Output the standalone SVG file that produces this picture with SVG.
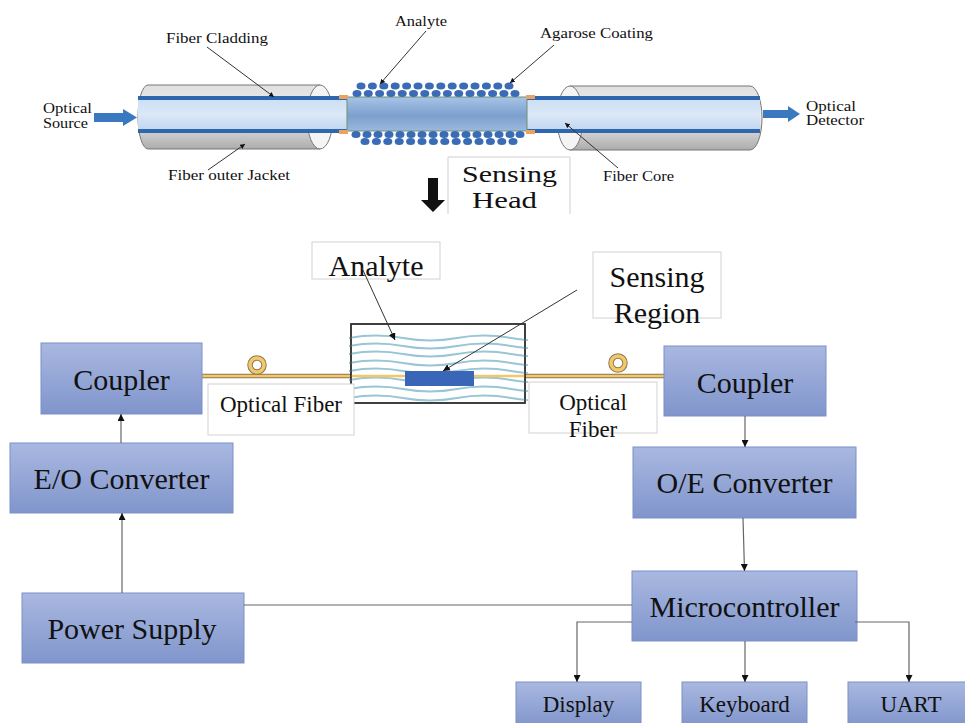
<svg xmlns="http://www.w3.org/2000/svg" width="965" height="723" viewBox="0 0 965 723">
  <defs>
    <style>
      .box { fill: url(#boxGrad); stroke: #7c8fc9; stroke-width: 1; }
      .txt { font-family: "Liberation Serif", "Times New Roman", serif; fill: #111; }
      .big { font-size: 30px; text-anchor: middle; }
      .mid { font-size: 23px; text-anchor: middle; }
      .sm { font-size: 14px; }
      .tag { fill: #fff; stroke: #d2d2d2; stroke-width: 1; }
      .conn { stroke: #666; stroke-width: 1.2; fill: none; }
      .lead { stroke: #333; stroke-width: 1; fill: none; }
      .wave { stroke: #98c6d5; stroke-width: 1.9; fill: none; }
      .dot { fill: #3a6cb5; }
      .stripe { fill: #2f66b0; }
    </style>
    <linearGradient id="boxGrad" x1="0" y1="0" x2="0" y2="1">
      <stop offset="0" stop-color="#a9b8e0"/>
      <stop offset="1" stop-color="#8095cc"/>
    </linearGradient>
    <linearGradient id="jacketGrad" x1="0" y1="0" x2="0" y2="1">
      <stop offset="0" stop-color="#e0e0e0"/>
      <stop offset="0.5" stop-color="#efefef"/>
      <stop offset="1" stop-color="#acacac"/>
    </linearGradient>
    <linearGradient id="coreGrad" x1="0" y1="0" x2="0" y2="1">
      <stop offset="0" stop-color="#c9def3"/>
      <stop offset="0.5" stop-color="#dbe8f7"/>
      <stop offset="1" stop-color="#bcd3ee"/>
    </linearGradient>
    <linearGradient id="senseGrad" x1="0" y1="0" x2="0" y2="1">
      <stop offset="0" stop-color="#a8c4e6"/>
      <stop offset="0.55" stop-color="#7c9fce"/>
      <stop offset="1" stop-color="#9cb9de"/>
    </linearGradient>
    <marker id="arr" viewBox="0 0 10 10" refX="10" refY="5" markerWidth="7" markerHeight="7" orient="auto" markerUnits="userSpaceOnUse">
      <path d="M0,0 L10,5 L0,10 Z" fill="#111"/>
    </marker>
    <marker id="tip" viewBox="0 0 10 10" refX="10" refY="5" markerWidth="5" markerHeight="5" orient="auto" markerUnits="userSpaceOnUse">
      <path d="M0,0 L10,5 L0,10 Z" fill="#111"/>
    </marker>
    <clipPath id="waveClip">
      <rect x="349" y="332" width="179" height="72"/>
    </clipPath>
    <path id="waveLine" d="M0,0 q27,-5 54,0 t54,0 t54,0 t54,0"/>
  </defs>

  <rect width="965" height="723" fill="#fff"/>

  <!-- fiber sensing head illustration -->
  <g id="fiber-illustration">
    <!-- left jacket -->
    <path d="M148,85 L320,85 L320,149 L148,149 A10,32 0 0 1 148,85 Z" fill="url(#jacketGrad)" stroke="#777" stroke-width="1"/>
    <ellipse cx="320" cy="117" rx="13" ry="32" fill="#f4f4f4" stroke="#777" stroke-width="1"/>
    <!-- right jacket -->
    <path d="M570,86 L750,86 A12,32 0 0 1 750,150 L570,150 Z" fill="url(#jacketGrad)" stroke="#777" stroke-width="1"/>
    <ellipse cx="570" cy="118" rx="13" ry="32" fill="#f4f4f4" stroke="#777" stroke-width="1"/>
    <!-- cores -->
    <rect x="138" y="96" width="209" height="37" fill="url(#coreGrad)"/>
    <rect x="138" y="96" width="209" height="4" class="stripe"/>
    <rect x="138" y="129" width="209" height="4" class="stripe"/>
    <rect x="527" y="96" width="233" height="37" fill="url(#coreGrad)"/>
    <rect x="527" y="96" width="233" height="4" class="stripe"/>
    <rect x="527" y="129" width="233" height="4" class="stripe"/>
    <!-- exposed sensing section -->
    <rect x="347" y="97" width="180" height="34" fill="url(#senseGrad)" stroke="#6f8f74" stroke-width="1"/>
    <rect x="339" y="95" width="9" height="4" fill="#e9a463"/>
    <rect x="339" y="130" width="9" height="4" fill="#e9a463"/>
    <rect x="526" y="95" width="9" height="4" fill="#e9a463"/>
    <rect x="526" y="130" width="9" height="4" fill="#e9a463"/>
    <!-- agarose beads -->
    <g id="beads">
      <ellipse class="dot" cx="361" cy="86" rx="4.5" ry="3.6"/><ellipse class="dot" cx="372.4" cy="86" rx="4.5" ry="3.6"/><ellipse class="dot" cx="383.8" cy="86" rx="4.5" ry="3.6"/><ellipse class="dot" cx="395.2" cy="86" rx="4.5" ry="3.6"/><ellipse class="dot" cx="406.6" cy="86" rx="4.5" ry="3.6"/><ellipse class="dot" cx="418" cy="86" rx="4.5" ry="3.6"/><ellipse class="dot" cx="429.4" cy="86" rx="4.5" ry="3.6"/><ellipse class="dot" cx="440.8" cy="86" rx="4.5" ry="3.6"/><ellipse class="dot" cx="452.2" cy="86" rx="4.5" ry="3.6"/><ellipse class="dot" cx="463.6" cy="86" rx="4.5" ry="3.6"/><ellipse class="dot" cx="475" cy="86" rx="4.5" ry="3.6"/><ellipse class="dot" cx="486.4" cy="86" rx="4.5" ry="3.6"/><ellipse class="dot" cx="497.8" cy="86" rx="4.5" ry="3.6"/><ellipse class="dot" cx="509" cy="86" rx="4.5" ry="3.6"/>
      <ellipse class="dot" cx="357" cy="93.5" rx="4.5" ry="3.6"/><ellipse class="dot" cx="368.3" cy="93.5" rx="4.5" ry="3.6"/><ellipse class="dot" cx="379.6" cy="93.5" rx="4.5" ry="3.6"/><ellipse class="dot" cx="390.9" cy="93.5" rx="4.5" ry="3.6"/><ellipse class="dot" cx="402.2" cy="93.5" rx="4.5" ry="3.6"/><ellipse class="dot" cx="413.5" cy="93.5" rx="4.5" ry="3.6"/><ellipse class="dot" cx="424.8" cy="93.5" rx="4.5" ry="3.6"/><ellipse class="dot" cx="436.1" cy="93.5" rx="4.5" ry="3.6"/><ellipse class="dot" cx="447.4" cy="93.5" rx="4.5" ry="3.6"/><ellipse class="dot" cx="458.7" cy="93.5" rx="4.5" ry="3.6"/><ellipse class="dot" cx="470" cy="93.5" rx="4.5" ry="3.6"/><ellipse class="dot" cx="481.3" cy="93.5" rx="4.5" ry="3.6"/><ellipse class="dot" cx="492.6" cy="93.5" rx="4.5" ry="3.6"/><ellipse class="dot" cx="503.9" cy="93.5" rx="4.5" ry="3.6"/><ellipse class="dot" cx="515" cy="93.5" rx="4.5" ry="3.6"/>
      <ellipse class="dot" cx="356" cy="134.5" rx="4.5" ry="3.6"/><ellipse class="dot" cx="367" cy="134.5" rx="4.5" ry="3.6"/><ellipse class="dot" cx="378" cy="134.5" rx="4.5" ry="3.6"/><ellipse class="dot" cx="389" cy="134.5" rx="4.5" ry="3.6"/><ellipse class="dot" cx="400" cy="134.5" rx="4.5" ry="3.6"/><ellipse class="dot" cx="411" cy="134.5" rx="4.5" ry="3.6"/><ellipse class="dot" cx="422" cy="134.5" rx="4.5" ry="3.6"/><ellipse class="dot" cx="433" cy="134.5" rx="4.5" ry="3.6"/><ellipse class="dot" cx="444" cy="134.5" rx="4.5" ry="3.6"/><ellipse class="dot" cx="455" cy="134.5" rx="4.5" ry="3.6"/><ellipse class="dot" cx="466" cy="134.5" rx="4.5" ry="3.6"/><ellipse class="dot" cx="477" cy="134.5" rx="4.5" ry="3.6"/><ellipse class="dot" cx="488" cy="134.5" rx="4.5" ry="3.6"/><ellipse class="dot" cx="499" cy="134.5" rx="4.5" ry="3.6"/><ellipse class="dot" cx="510" cy="134.5" rx="4.5" ry="3.6"/><ellipse class="dot" cx="520" cy="134.5" rx="4.5" ry="3.6"/>
      <ellipse class="dot" cx="365" cy="141.5" rx="4.5" ry="3.6"/><ellipse class="dot" cx="376.4" cy="141.5" rx="4.5" ry="3.6"/><ellipse class="dot" cx="387.8" cy="141.5" rx="4.5" ry="3.6"/><ellipse class="dot" cx="399.2" cy="141.5" rx="4.5" ry="3.6"/><ellipse class="dot" cx="410.6" cy="141.5" rx="4.5" ry="3.6"/><ellipse class="dot" cx="422" cy="141.5" rx="4.5" ry="3.6"/><ellipse class="dot" cx="433.4" cy="141.5" rx="4.5" ry="3.6"/><ellipse class="dot" cx="444.8" cy="141.5" rx="4.5" ry="3.6"/><ellipse class="dot" cx="456.2" cy="141.5" rx="4.5" ry="3.6"/><ellipse class="dot" cx="467.6" cy="141.5" rx="4.5" ry="3.6"/><ellipse class="dot" cx="479" cy="141.5" rx="4.5" ry="3.6"/><ellipse class="dot" cx="490.4" cy="141.5" rx="4.5" ry="3.6"/><ellipse class="dot" cx="501.8" cy="141.5" rx="4.5" ry="3.6"/><ellipse class="dot" cx="513" cy="141.5" rx="4.5" ry="3.6"/>
    </g>
    <!-- light in / out arrows -->
    <path d="M94,113 L123,113 L123,109 L137,117.5 L123,126 L123,122 L94,122 Z" fill="#3a78c0"/>
    <path d="M763,110 L788,110 L788,106 L800,114 L788,122 L788,118 L763,118 Z" fill="#3a78c0"/>
    <!-- leader lines -->
    <line class="lead" x1="207" y1="47" x2="274" y2="97" marker-end="url(#tip)"/>
    <line class="lead" x1="426" y1="31" x2="380" y2="84" marker-end="url(#tip)"/>
    <line class="lead" x1="554" y1="45" x2="510" y2="83" marker-end="url(#tip)"/>
    <line class="lead" x1="208" y1="170" x2="245" y2="144" marker-end="url(#tip)"/>
    <line class="lead" x1="618" y1="168" x2="565" y2="123" marker-end="url(#tip)"/>
    <!-- labels -->
    <text class="txt sm" x="43" y="113" textLength="49" lengthAdjust="spacingAndGlyphs">Optical</text>
    <text class="txt sm" x="43" y="128" textLength="45" lengthAdjust="spacingAndGlyphs">Source</text>
    <text class="txt sm" x="166" y="43" textLength="102" lengthAdjust="spacingAndGlyphs">Fiber Cladding</text>
    <text class="txt sm" x="395" y="26" textLength="52" lengthAdjust="spacingAndGlyphs">Analyte</text>
    <text class="txt sm" x="540" y="38" textLength="113" lengthAdjust="spacingAndGlyphs">Agarose Coating</text>
    <text class="txt sm" x="806" y="111" textLength="50" lengthAdjust="spacingAndGlyphs">Optical</text>
    <text class="txt sm" x="806" y="125" textLength="58" lengthAdjust="spacingAndGlyphs">Detector</text>
    <text class="txt sm" x="168" y="180" textLength="122" lengthAdjust="spacingAndGlyphs">Fiber outer Jacket</text>
    <text class="txt sm" x="603" y="181" textLength="71" lengthAdjust="spacingAndGlyphs">Fiber Core</text>
  </g>

  <!-- sensing head caption -->
  <g id="sensing-head">
    <path d="M448,214 L448,157 L570,157 L570,214" fill="#fff" stroke="#cfcfcf" stroke-width="1"/>
    <text class="txt" x="462" y="182" font-size="23" textLength="95" lengthAdjust="spacingAndGlyphs">Sensing</text>
    <text class="txt" x="472" y="208" font-size="23" textLength="65" lengthAdjust="spacingAndGlyphs">Head</text>
    <path d="M428,178 L438,178 L438,200 L445,200 L433,212 L421,200 L428,200 Z" fill="#111"/>
  </g>

  <!-- optical fiber link -->
  <g id="fiber-link">
    <line x1="202" y1="376" x2="664" y2="376" stroke="#8a7a55" stroke-width="4.5"/>
    <line x1="202" y1="376" x2="664" y2="376" stroke="#f3c76a" stroke-width="2.5"/>
    <circle cx="257" cy="365" r="7" fill="none" stroke="#8a7a55" stroke-width="5.5"/>
    <circle cx="257" cy="365" r="7" fill="none" stroke="#f3c76a" stroke-width="3.5"/>
    <circle cx="618" cy="363" r="7" fill="none" stroke="#8a7a55" stroke-width="5.5"/>
    <circle cx="618" cy="363" r="7" fill="none" stroke="#f3c76a" stroke-width="3.5"/>
  </g>

  <!-- analyte chamber -->
  <g id="analyte-chamber">
    <rect x="351" y="324" width="174" height="79" fill="#fff" stroke="#333" stroke-width="1.5"/>
    <g clip-path="url(#waveClip)">
      <use href="#waveLine" class="wave" x="349" y="338"/>
      <use href="#waveLine" class="wave" x="349" y="346"/>
      <use href="#waveLine" class="wave" x="349" y="354"/>
      <use href="#waveLine" class="wave" x="349" y="363"/>
      <use href="#waveLine" class="wave" x="349" y="371"/>
      <use href="#waveLine" class="wave" x="349" y="380"/>
      <use href="#waveLine" class="wave" x="349" y="389"/>
      <use href="#waveLine" class="wave" x="349" y="398"/>
    </g>
    <line x1="351" y1="376" x2="525" y2="376" stroke="#f3c76a" stroke-width="2.5"/>
    <rect x="405" y="371" width="69" height="15" fill="#3a66b8"/>
    <rect x="351" y="324" width="174" height="79" fill="none" stroke="#333" stroke-width="1.5"/>
  </g>

  <!-- callout labels -->
  <g id="label-analyte">
    <rect class="tag" x="312" y="242" width="128" height="37"/>
    <text class="txt big" x="376" y="276">Analyte</text>
  </g>
  <g id="label-sensing-region">
    <rect class="tag" x="593" y="252" width="128" height="66"/>
    <text class="txt big" x="657" y="287">Sensing</text>
    <text class="txt big" x="657" y="323">Region</text>
  </g>
  <g id="label-fiber-left">
    <rect class="tag" x="208" y="384" width="146" height="51"/>
    <text class="txt mid" x="281" y="412">Optical Fiber</text>
  </g>
  <g id="label-fiber-right">
    <rect class="tag" x="529" y="382" width="128" height="51"/>
    <text class="txt mid" x="593" y="410">Optical</text>
    <text class="txt mid" x="593" y="437">Fiber</text>
  </g>

  <!-- block nodes -->
  <g id="coupler-left">
    <rect class="box" x="41" y="343" width="161" height="71"/>
    <text class="txt big" x="121.5" y="390">Coupler</text>
  </g>
  <g id="eo-converter">
    <rect class="box" x="10" y="443" width="223" height="70"/>
    <text class="txt big" x="121.5" y="489">E/O Converter</text>
  </g>
  <g id="power-supply">
    <rect class="box" x="22" y="593" width="222" height="70"/>
    <text class="txt big" x="132" y="639">Power Supply</text>
  </g>
  <g id="coupler-right">
    <rect class="box" x="664" y="346" width="162" height="70"/>
    <text class="txt big" x="745" y="393">Coupler</text>
  </g>
  <g id="oe-converter">
    <rect class="box" x="633" y="447" width="223" height="71"/>
    <text class="txt big" x="744.5" y="493">O/E Converter</text>
  </g>
  <g id="microcontroller">
    <rect class="box" x="632" y="571" width="225" height="70"/>
    <text class="txt big" x="744.5" y="617">Microcontroller</text>
  </g>
  <g id="display">
    <rect class="box" x="516" y="682" width="125" height="45"/>
    <text class="txt mid" x="578.5" y="712">Display</text>
  </g>
  <g id="keyboard">
    <rect class="box" x="682" y="682" width="125" height="45"/>
    <text class="txt mid" x="744.5" y="712">Keyboard</text>
  </g>
  <g id="uart">
    <rect class="box" x="848" y="682" width="125" height="45"/>
    <text class="txt mid" x="911" y="712">UART</text>
  </g>

  <!-- connectors -->
  <g id="connectors">
    <line class="conn" x1="121" y1="443" x2="121" y2="414" marker-end="url(#arr)"/>
    <line class="conn" x1="122" y1="593" x2="122" y2="513" marker-end="url(#arr)"/>
    <line class="conn" x1="244" y1="605" x2="632" y2="605"/>
    <line class="conn" x1="745" y1="416" x2="745" y2="447" marker-end="url(#arr)"/>
    <line class="conn" x1="743" y1="518" x2="744.5" y2="571" marker-end="url(#arr)"/>
    <polyline class="conn" points="632,622 577,622 577,682" marker-end="url(#arr)"/>
    <line class="conn" x1="745" y1="641" x2="745" y2="682" marker-end="url(#arr)"/>
    <polyline class="conn" points="855,622 909,622 909,682" marker-end="url(#arr)"/>
    <line class="lead" x1="362" y1="268" x2="395" y2="340" marker-end="url(#arr)"/>
    <line class="lead" x1="577" y1="290" x2="443" y2="371" marker-end="url(#arr)"/>
  </g>
</svg>
